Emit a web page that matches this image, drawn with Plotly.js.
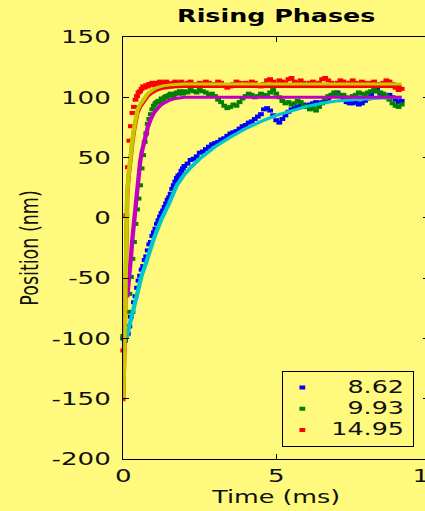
<!DOCTYPE html>
<html><head><meta charset="utf-8">
<script src="https://cdn.plot.ly/plotly-3.0.1.min.js"></script>
<style>
html,body{margin:0;padding:0;overflow:hidden;background:#fffa7d;width:425px;height:511px;}
#wrap{width:425px;height:511px;overflow:hidden;position:relative;}
#chart{width:320px;height:511px;transform:scaleX(1.45);transform-origin:0 0;position:absolute;left:0;top:0;}
</style></head><body><div id="wrap"><div id="chart"></div></div>
<script>
// sample times (ms)
const T = [0,0.05,0.1,0.15,0.2,0.25,0.3,0.35,0.4,0.45,0.5,0.55,0.6,0.65,0.7,0.75,0.8,0.85,0.9,0.95,
  1,1.05,1.1,1.15,1.2,1.25,1.3,1.35,1.4,1.45,1.5,1.55,1.6,1.65,1.7,1.75,1.8,1.85,1.9,1.95,2,
  2.1,2.2,2.3,2.4,2.5,2.6,2.7,2.8,2.9,3,3.1,3.2,3.3,3.4,3.5,3.6,3.7,3.8,3.9,4,
  4.1,4.2,4.3,4.4,4.5,4.6,4.7,4.8,4.9,5,5.1,5.2,5.3,5.4,5.5,5.6,5.7,5.8,5.9,6,
  6.1,6.2,6.3,6.4,6.5,6.6,6.7,6.8,6.9,7,7.1,7.2,7.3,7.4,7.5,7.6,7.7,7.8,7.9,8,
  8.1,8.2,8.3,8.4,8.5,8.6,8.7,8.8,8.9,9,9.1];

// series labels
const NAMES = ['\u20078.62', '\u20079.93', '14.95'];

// data (nm)
const blue = [-100,-102,-97,-96,-90,-82,-78,-70,-65,-58,-52,-48,-43,-40,-35,-32,-27,-22,-20,-15,
  -12,-9,-5,-2,1,4,6,9,12,15,17,20,24,27,30,33,35,36,39,41,43,
  45,48,49,51,54,55,57,59,61,62, 63,65,66,68,70,71,72,74,76,77,
  79,80,82,84,86,90,91,89,85,81, 79,82,85,88,90,91,92,93,94,93,
  94,95,96,95,96,98,99,101,103,104, 102,99,96,95,95,96,94,95,97,99,
  102,105,106,103,101,100,102,100,98,96, 97];
const green = [-98,-101,-90,-78,-63,-49,-34,-20,-5,7,16,27,41,52,63,70,78,82,86,90,
  93,95,96,97,96,99,98,100,101,100,102,103,102,101,103,104,103,105,104,103,105,
  104,106,105,104,106,105,104,102,103,101, 98,96,93,91,92,94,93,96,99,101,
  103,102,100,101,103,102,101,104,106,103, 100,97,95,96,94,95,97,96,93,92,
  90,91,89,92,95,99,101,102,104,103, 101,102,100,99,101,102,104,103,102,104,
  105,106,105,104,103,101,98,95,93,92, 94];
const red = [-110,-99,2,42,64,76,87,92,98,101,104,105,107,109,108,110,109,111,110,112,
  111,110,112,111,113,112,110,111,113,112,110,109,111,112,113,111,110,112,113,111,110,
  112,113,111,110,112,111,113,112,110,111, 113,112,110,108,109,111,113,112,110,112,
  111,113,112,110,109,111,114,115,113,111, 114,113,112,115,116,113,112,114,112,110,
  112,113,111,112,115,116,114,112,110,112, 114,113,111,112,114,112,111,113,112,110,
  112,113,111,110,112,114,113,111,108,106, 107];

// fitted curves
const cyanT = [0.1,0.2,0.3,0.4,0.5,0.6,0.75,0.9,1.0,1.25,1.5,1.75,2.0,2.25,2.5,3.0,3.5,4.0,4.5,5.0,5.5,6.0,6.5,7.0,7.5,8.0,8.5,9.1];
const cyanV = [-100,-90,-80,-68,-57,-48,-37,-25,-17,-1,12,27,36,43,49,59,67,74,80,85,89,92.5,95,97,98,99,99.5,100];
const magT = [0.13,0.2,0.25,0.3,0.35,0.4,0.45,0.5,0.55,0.6,0.7,0.8,0.9,1.0,1.1,1.2,1.35,1.5,1.7,2.0,9.1];
const magV = [-66,-50,-33,-17,-3,10,23,35,46,54,66,75,82,87,90,93,95.5,97.5,99,100,100];
const oliveT = [0,0.03,0.06,0.08,0.1,0.13,0.17,0.2,0.24,0.3,0.35,0.4,0.46,0.55,0.68,0.8,0.95,1.1,1.3,1.6,2.0,9.1];
const oliveV = [-150,-125,-80,-50,-5,20,35,43,54,65,74,82,89,94,99,103,106,108,109.5,110.5,111,111];
const redFitV = [-152,-127,-82,-52,-7,18,33,41,52,63,72,80,87,92,97,101,104,106,107.5,108.5,109,109];

// ticks
const X_TICKS = [0,5,10];
const X_TICK_TEXT = ['0','5','10'];
const Y_TICKS = [-200,-150,-100,-50,0,50,100,150];
const Y_TICK_TEXT = ['-200','-150','-100','-50','0','50','100','150'];

const BG = '#fffa7d';
const mk = (c) => ({symbol:'square', size:4, color:c, line:{width:0}});
const lbl = (s) => '<span style="font-size:17.5px">' + s + '</span>';
const traces = [
  {x:T, y:blue, name:lbl(NAMES[0]), mode:'markers', marker:mk('#0000ff'), cliponaxis:false},
  {x:T, y:green, name:lbl(NAMES[1]), mode:'markers', marker:mk('#008000'), cliponaxis:false},
  {x:T, y:red, name:lbl(NAMES[2]), mode:'markers', marker:mk('#ff0000'), cliponaxis:false},
  {x:cyanT, y:cyanV, mode:'lines', line:{color:'#00c8c8', width:3}, showlegend:false},
  {x:magT, y:magV, mode:'lines', line:{color:'#c000c0', width:3}, showlegend:false},
  {x:oliveT, y:redFitV, mode:'lines', line:{color:'#ff0000', width:3}, showlegend:false},
  {x:oliveT, y:oliveV, mode:'lines', line:{color:'#c8c800', width:3}, showlegend:false}
];

const axisCommon = {ticks:'inside', tickcolor:'#000', showline:true, linecolor:'#000', linewidth:1,
  mirror:'ticks', showgrid:false, zeroline:false, tickmode:'array', tickfont:{size:18, color:'#111'}};

const layout = {
  width:320, height:511, autosize:false,
  paper_bgcolor:BG, plot_bgcolor:BG,
  margin:{l:85, r:24, t:37, b:52, pad:0},
  font:{family:'DejaVu Sans, Verdana, sans-serif', size:18, color:'#000'},
  title:{text:'Rising Phases', font:{size:17.5, weight:'bold', color:'#000'}, x:0.5, xref:'paper', xanchor:'center',
    y:1-16/511, yref:'container', yanchor:'middle'},
  showlegend:true,
  legend:{x:0.519, xanchor:'left', y:0.2085, yanchor:'top', bgcolor:BG, bordercolor:'#000', borderwidth:1,
    font:{size:14, color:'#111'}, itemwidth:30, tracegroupgap:0, indentation:-7},
  xaxis:Object.assign({}, axisCommon, {range:[0,10], tickvals:X_TICKS, ticktext:X_TICK_TEXT, ticklen:5,
    title:{text:'Time (ms)', font:{size:17.5, color:'#111'}, standoff:6}}),
  yaxis:Object.assign({}, axisCommon, {range:[-200,150], tickvals:Y_TICKS, ticktext:Y_TICK_TEXT, ticklen:4,
    ticklabelstandoff:4,
    title:{text:'Position (nm)', font:{size:17.5, color:'#111'}, standoff:4}})
};

Plotly.newPlot('chart', traces, layout, {staticPlot:true, displayModeBar:false, responsive:false});
</script></body></html>
